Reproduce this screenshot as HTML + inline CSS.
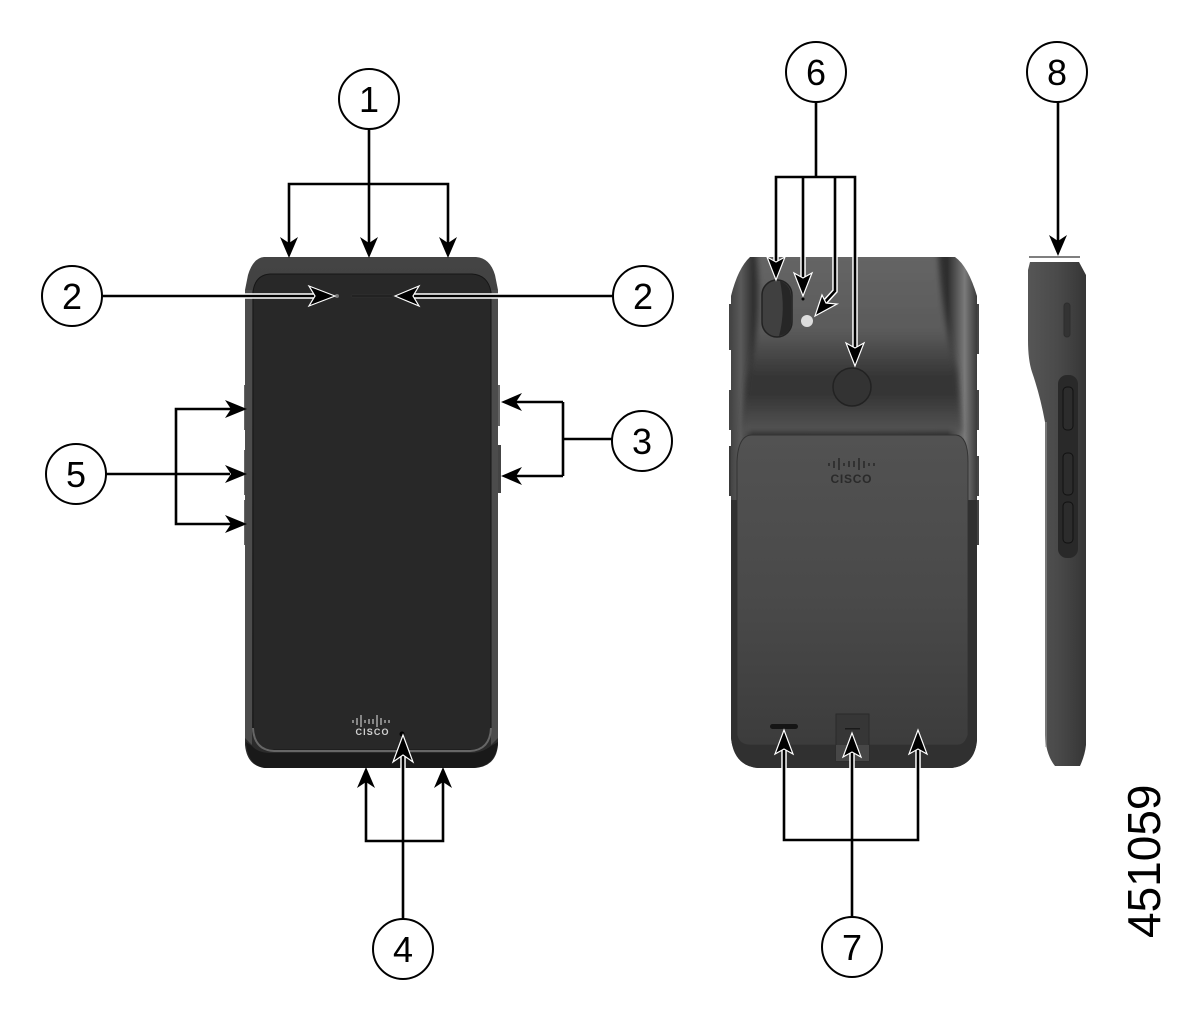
<!DOCTYPE html>
<html><head><meta charset="utf-8"><style>html,body{margin:0;padding:0;background:#fff}svg{display:block}text{font-family:"Liberation Sans",sans-serif}</style></head><body>
<svg width="1203" height="1020" viewBox="0 0 1203 1020" xmlns="http://www.w3.org/2000/svg">
<defs>
<linearGradient id="bh" x1="0" x2="1" y1="0" y2="0"><stop offset="0" stop-color="#444"/><stop offset=".04" stop-color="#5a5a5a"/><stop offset=".09" stop-color="#303030"/><stop offset=".5" stop-color="#333"/><stop offset=".88" stop-color="#2e2e2e"/><stop offset=".95" stop-color="#7a7a7a"/><stop offset="1" stop-color="#3a3a3a"/></linearGradient>
<linearGradient id="bv" x1="0" x2="0" y1="0" y2="1"><stop offset="0" stop-color="#666"/><stop offset=".45" stop-color="#5a5a5a"/><stop offset=".7" stop-color="#343434"/><stop offset=".8" stop-color="#363636"/><stop offset="1" stop-color="#555"/></linearGradient>
<linearGradient id="bp" x1="0" x2="0" y1="0" y2="1"><stop offset="0" stop-color="#525252"/><stop offset=".55" stop-color="#494949"/><stop offset="1" stop-color="#3c3c3c"/></linearGradient>
<linearGradient id="sd" x1="0" x2="1" y1="0" y2="0"><stop offset="0" stop-color="#565656"/><stop offset=".5" stop-color="#4a4a4a"/><stop offset="1" stop-color="#363636"/></linearGradient>
<linearGradient id="ft" x1="0" x2="0" y1="0" y2="1"><stop offset="0" stop-color="#444"/><stop offset="1" stop-color="#2a2a2a"/></linearGradient>
<filter id="b3" x="-10%" y="-10%" width="120%" height="120%"><feGaussianBlur stdDeviation="3"/></filter>
<clipPath id="backclip"><path d="M750 257H955Q968 266 977 296V740Q975 765 952 768H758Q734 766 731 738V296Q738 268 750 257Z"/></clipPath>
</defs>

<!-- front phone -->
<rect x="244" y="385" width="4" height="45" fill="#666"/><rect x="244" y="450" width="4" height="45" fill="#666"/><rect x="244" y="500" width="4" height="45" fill="#666"/>
<rect x="497" y="385" width="3" height="41" fill="#666"/><rect x="497" y="445" width="4" height="48" fill="#444"/>
<path d="M264 257H476Q490 258 495 275L498 290V745Q496 767 474 768H265Q247 766 245 745V290L248 275Q253 258 264 257Z" fill="url(#ft)"/>
<path d="M245 290H252V745L245 738ZM491 290H498V738L491 745Z" fill="#4c4c4c"/>
<path d="M270 274H472Q488 275 491 292V730Q490 750 470 750H272Q254 749 253 730V292Q255 275 270 274Z" fill="#282828" stroke="#161616"/>
<path d="M253 728Q254 750 274 751H470Q490 750 491 728" fill="none" stroke="#666" stroke-width="2"/>
<path d="M246 742Q248 766 265 768H474Q496 766 498 742L491 746Q482 753 470 753H272Q258 753 252 746Z" fill="#191919"/>
<circle cx="337" cy="296" r="2" fill="#777"/>
<rect x="351" y="295" width="42" height="2" rx="1" fill="#1a1a1a" stroke="#3a3a3a" stroke-width=".5"/>
<circle cx="402" cy="734" r="2.5" fill="#000"/>
<g stroke="#c4c4c4" stroke-width="1.2"><path d="M353 720v3M357 718v7M361 715v12M365 720v3M369 719v5M373 719v5M377 715v12M381 718v7M385 720v3M389 720v3"/></g>
<text x="372" y="735" text-anchor="middle" font-size="9" font-weight="bold" fill="#d0d0d0" textLength="33" lengthAdjust="spacing">CISCO</text>

<!-- back phone -->
<rect x="729" y="304" width="4" height="46" fill="#444"/><rect x="729" y="390" width="4" height="40" fill="#444"/><rect x="729" y="446" width="5" height="50" fill="#3a3a3a"/>
<rect x="975" y="304" width="4" height="50" fill="#444"/><rect x="975" y="390" width="4" height="40" fill="#444"/><rect x="975" y="456" width="4" height="40" fill="#444"/><rect x="975" y="500" width="4" height="45" fill="#444"/>
<path d="M750 257H955Q968 266 977 296V740Q975 765 952 768H758Q734 766 731 738V296Q738 268 750 257Z" fill="url(#bh)"/>
<g clip-path="url(#backclip)"><path d="M756 250H938Q942 320 957 370L962 432H742L747 380Q764 320 756 250Z" fill="url(#bv)" filter="url(#b3)"/></g>
<path d="M737 462Q738 435 752 435H956Q968 436 968 462V735Q965 745 958 745H750Q739 745 737 735Z" fill="url(#bp)" stroke="#333" stroke-width="1"/>
<path d="M731 500H737V735Q739 745 750 745H958Q965 745 968 735V500H977V740Q975 765 952 768H758Q734 766 731 738Z" fill="#303030"/>
<rect x="762" y="280" width="30" height="57" rx="15" fill="#404040" stroke="#222" stroke-width="1.5"/>
<path d="M780 281Q792 285 791 300V320Q792 333 779 336Q786 310 780 281Z" fill="#262626"/>
<circle cx="803" cy="299" r="1.5" fill="#000"/>
<circle cx="807" cy="321" r="6" fill="#ddd"/>
<circle cx="852" cy="387" r="19" fill="#333" stroke="#222" stroke-width="1.5"/>
<g stroke="#2a2a2a" stroke-width="1.6"><path d="M829 463v3M834 461v7M839 458v12M844 463v3M849 461v6M854 461v6M859 458v12M864 461v7M869 463v3M874 463v3"/></g>
<text x="851" y="483" text-anchor="middle" font-size="12" font-weight="bold" fill="#2a2a2a" textLength="41" lengthAdjust="spacing">CISCO</text>
<rect x="770" y="724" width="28" height="5" rx="2.5" fill="#151515"/>
<rect x="836" y="714" width="33" height="47" fill="#363636" stroke="#2a2a2a"/>
<rect x="836" y="745" width="33" height="16" fill="#474747"/>
<rect x="845" y="728" width="15" height="1.5" fill="#1a1a1a"/>

<!-- side view -->
<path d="M1030 262H1079L1086 275V745Q1085 755 1080 766H1055Q1046 755 1045 735V422Q1040 395 1032 372Q1028 360 1028 340V270Z" fill="url(#sd)"/>
<rect x="1045" y="422" width="2" height="325" fill="#999" opacity=".55"/>
<rect x="1064" y="303" width="6" height="34" rx="3" fill="#333" stroke="#2d2d2d"/>
<rect x="1058" y="375" width="20" height="183" rx="9" fill="#292929"/>
<rect x="1063" y="387" width="10" height="43" rx="4" fill="#2c2c2c" stroke="#111"/>
<rect x="1063" y="453" width="10" height="42" rx="4" fill="#2c2c2c" stroke="#111"/>
<rect x="1063" y="502" width="10" height="41" rx="4" fill="#2c2c2c" stroke="#111"/>

<!-- white halos -->
<g stroke="#fff" stroke-width="5.5" fill="none" stroke-linejoin="miter">
<path d="M320 296H245M410 296H498M403 745V768"/>
<path d="M784 745V768M852 745V768M918 745V768"/>
<path d="M776 257V268M803 257V285M835 257V291L824 303M855 257V355"/>
</g>

<!-- connector lines -->
<g stroke="#000" stroke-width="2.6" fill="none">
<path d="M369 129V245M289 245V184H448V245"/>
<path d="M102 296H320M613 296H410"/>
<path d="M612 439H563M563 402H515M563 402V476M563 476H515"/>
<path d="M106 474H230M231 409H176V524H231"/>
<path d="M403 919V745M366 780V841H443V780"/>
<path d="M816 102V177M776 270V177H855V355M803 177V285M835 177V291L824 303"/>
<path d="M852 917V745M784 745V840H918V745"/>
<path d="M1058 102V245"/>
<path d="M1029 257H1080" stroke="#555" stroke-width="1.5"/>
</g>

<!-- black arrowheads -->
<g fill="#000">
<path d="M289 258L280 237L289 243L298 237Z"/>
<path d="M369 258L360 237L369 243L378 237Z"/>
<path d="M448 258L439 237L448 243L457 237Z"/>
<path d="M247 409L225 400L231 409L225 418Z"/>
<path d="M247 474L225 465L231 474L225 483Z"/>
<path d="M247 524L225 515L231 524L225 533Z"/>
<path d="M501 402L522 393L516 402L522 411Z"/>
<path d="M501 476L522 467L516 476L522 485Z"/>
<path d="M366 767L357 788L366 782L375 788Z"/>
<path d="M443 767L434 788L443 782L452 788Z"/>
<path d="M1058 256L1049 235L1058 241L1067 235Z"/>
</g>
<!-- white-outlined arrowheads -->
<g fill="#000" stroke="#fff" stroke-width="1.2" stroke-linejoin="miter">
<path d="M335 296L309 286L315 296L309 306Z"/>
<path d="M395 296L419 286L413 296L419 306Z"/>
<path d="M403 735L393 762L403 755L413 762Z"/>
<path d="M776 280L767 257L776 262L785 257Z"/>
<path d="M803 296L794 273L803 278L812 273Z"/>
<path d="M815 316L822 295L826 303L837 304Z"/>
<path d="M855 366L846 343L855 348L864 343Z"/>
<path d="M784 730L775 754L784 749L793 754Z"/>
<path d="M852 733L843 757L852 752L861 757Z"/>
<path d="M918 730L909 754L918 749L927 754Z"/>
</g>

<!-- callouts -->
<g fill="#fff" stroke="#000" stroke-width="2">
<circle cx="369" cy="99" r="30"/><circle cx="72" cy="296" r="30"/><circle cx="643" cy="296" r="30"/><circle cx="642" cy="441" r="30"/><circle cx="403" cy="949" r="30"/><circle cx="76" cy="474" r="30"/><circle cx="816" cy="72" r="30"/><circle cx="852" cy="947" r="30"/><circle cx="1057" cy="72" r="30"/>
</g>
<g font-size="36" text-anchor="middle" fill="#000">
<text x="369" y="112">1</text><text x="72" y="309">2</text><text x="643" y="309">2</text><text x="642" y="454">3</text><text x="403" y="962">4</text><text x="76" y="487">5</text><text x="816" y="85">6</text><text x="852" y="960">7</text><text x="1057" y="85">8</text>
</g>
<text transform="translate(1160 938) rotate(-90)" font-size="46" fill="#000">451059</text>
</svg>
</body></html>
